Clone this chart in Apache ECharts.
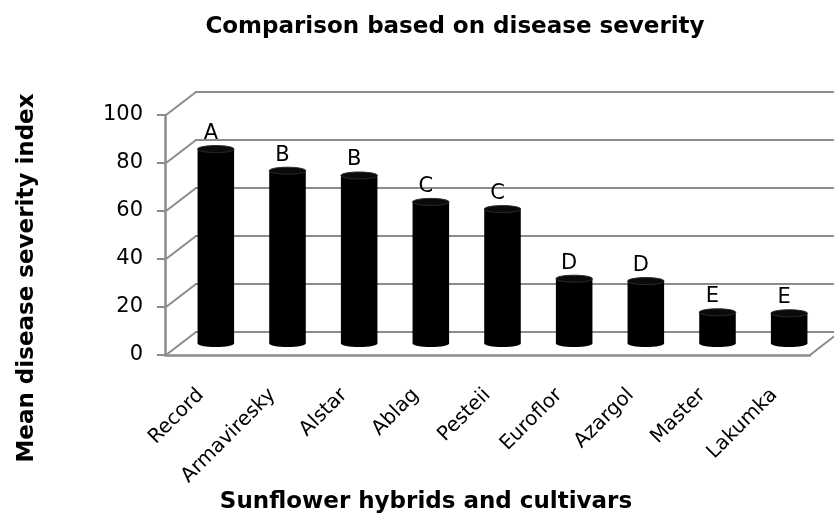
<!DOCTYPE html>
<html>
<head>
<meta charset="utf-8">
<script src="https://cdn.jsdelivr.net/npm/echarts@6/dist/echarts.min.js"></script>
<style>
  html, body { margin: 0; padding: 0; background: #fff; }
  #chart { width: 834px; height: 519px; }
</style>
</head>
<body>
<div id="chart"></div>
<script>
// 数据
const cultivars = ['Record', 'Armaviresky', 'Alstar', 'Ablag', 'Pesteii', 'Euroflor', 'Azargol', 'Master', 'Lakumka']
const severity = [81, 72, 70, 59, 56, 27, 26, 13, 12.6]
const groups = ['A', 'B', 'B', 'C', 'C', 'D', 'D', 'E', 'E']
const yTicks = [0, 20, 40, 60, 80, 100]

// 3D 效果的纵深偏移
const DX = 30
const DY = -23

const chart = echarts.init(document.getElementById('chart'))
const gray = '#8c8c8c'
const font = 'DejaVu Sans'

const option = {
  animation: false,
  title: {
    text: 'Comparison based on disease severity',
    left: 450,
    top: 11,
    textAlign: 'center',
    textStyle: { fontFamily: font, fontSize: 23, fontWeight: 'bold', color: '#000' }
  },
  graphic: [
    {
      type: 'text',
      x: 27,
      y: 278,
      rotation: Math.PI / 2,
      style: {
        text: 'Mean disease severity index',
        font: 'bold 23px "DejaVu Sans"',
        fill: '#000',
        align: 'center',
        verticalAlign: 'middle'
      }
    },
    {
      type: 'text',
      x: 426,
      y: 502,
      style: {
        text: 'Sunflower hybrids and cultivars',
        font: 'bold 23px "DejaVu Sans"',
        fill: '#000',
        align: 'center',
        verticalAlign: 'middle'
      }
    }
  ],
  grid: [
    // 背板
    { left: 165 + DX, top: 115 + DY, width: 645, height: 240, containLabel: false },
    // 柱子所在的中间平面
    { left: 165 + DX / 2, top: 115 + DY / 2, width: 645, height: 240, containLabel: false },
    // 前面的坐标轴
    { left: 165, top: 115, width: 645, height: 240, containLabel: false }
  ],
  xAxis: [
    { gridIndex: 0, type: 'category', data: cultivars, show: false },
    { gridIndex: 1, type: 'category', data: cultivars, show: false },
    {
      gridIndex: 2,
      type: 'category',
      data: cultivars,
      axisLine: { lineStyle: { color: gray, width: 2.5 } },
      axisTick: { show: false },
      axisLabel: {
        interval: 0,
        rotate: 45,
        margin: 37,
        fontFamily: font,
        fontSize: 20,
        color: '#000'
      }
    }
  ],
  yAxis: [
    {
      gridIndex: 0, type: 'value', min: 0, max: 100, interval: 20,
      axisLine: { show: false }, axisTick: { show: false }, axisLabel: { show: false },
      splitLine: { show: true, lineStyle: { color: gray, width: 2 } }
    },
    {
      gridIndex: 1, type: 'value', min: 0, max: 100, interval: 20,
      axisLine: { show: false }, axisTick: { show: false }, axisLabel: { show: false },
      splitLine: { show: false }
    },
    {
      gridIndex: 2, type: 'value', min: 0, max: 100, interval: 20,
      axisLine: { show: true, lineStyle: { color: gray, width: 2.5 } },
      axisTick: { show: true, length: 8, lineStyle: { color: gray, width: 2 } },
      axisLabel: { fontFamily: font, fontSize: 21, color: '#000', margin: 22 },
      splitLine: { show: false }
    }
  ],
  series: [
    {
      // 前轴到背板的斜线
      type: 'custom',
      xAxisIndex: 2,
      yAxisIndex: 2,
      data: yTicks,
      silent: true,
      renderItem: function (params, api) {
        const cs = params.coordSys
        const y = api.coord([0, api.value(0)])[1]
        const children = [{
          type: 'line',
          shape: { x1: cs.x + 1, y1: y, x2: cs.x + 1 + DX, y2: y + DY },
          style: { stroke: gray, lineWidth: 2 }
        }]
        if (api.value(0) === 0) {
          children.push({
            type: 'line',
            shape: { x1: cs.x + cs.width, y1: y, x2: cs.x + cs.width + DX, y2: y + DY },
            style: { stroke: gray, lineWidth: 2 }
          })
        }
        return { type: 'group', children: children }
      },
      encode: { y: 0 }
    },
    {
      // 圆柱
      type: 'custom',
      name: 'Mean disease severity index',
      xAxisIndex: 1,
      yAxisIndex: 1,
      data: severity.map((v, i) => [i, v]),
      renderItem: function (params, api) {
        const i = api.value(0)
        const top = api.coord([i, api.value(1)])
        const base = api.coord([i, 0])
        const w = api.size([1, 0])[0] * 0.51
        const rx = w / 2
        const ry = 3.5
        const cx = top[0]
        return {
          type: 'group',
          children: [
            {
              type: 'ellipse',
              shape: { cx: cx, cy: base[1], rx: rx, ry: ry },
              style: { fill: '#000' }
            },
            {
              type: 'rect',
              shape: { x: cx - rx, y: top[1], width: w, height: base[1] - top[1] },
              style: { fill: '#000' }
            },
            {
              type: 'ellipse',
              shape: { cx: cx, cy: top[1], rx: rx, ry: ry },
              style: { fill: '#0a0a0a', stroke: '#2a2a2a', lineWidth: 1 }
            },
            {
              type: 'text',
              x: cx - 5,
              y: top[1] - 5,
              style: {
                text: groups[i],
                font: '21px "DejaVu Sans"',
                fill: '#000',
                align: 'center',
                verticalAlign: 'bottom'
              }
            }
          ]
        }
      },
      encode: { x: 0, y: 1 }
    }
  ]
}

chart.setOption(option)
</script>
</body>
</html>
